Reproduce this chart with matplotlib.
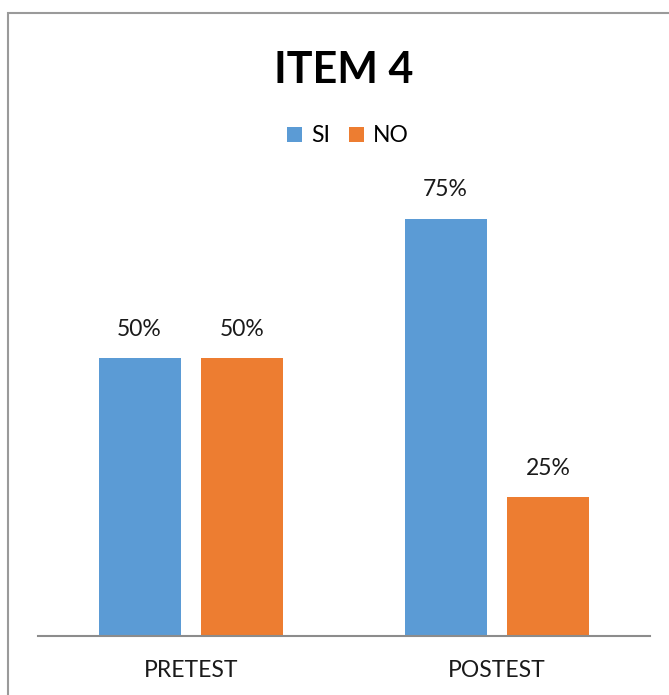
import matplotlib.pyplot as plt
from matplotlib.patches import Rectangle

plt.rcParams['font.family'] = ['Lato', 'DejaVu Sans']

categories = ["PRETEST", "POSTEST"]
series = ["SI", "NO"]
si_values = [0.50, 0.75]
no_values = [0.50, 0.25]
colors = ["#5B9BD5", "#ED7D31"]

fig = plt.figure(figsize=(6.69, 6.95), dpi=100)
ax = fig.add_axes([0.0568, 0.0849, 0.9148, 0.6403])

# chart frame (top and left edges visible)
fig.patches.append(Rectangle((8 / 669, -0.1), 1.2, (695 - 13) / 695 + 0.1,
                             transform=fig.transFigure, fill=False,
                             edgecolor="#9a9a9a", linewidth=1.5))

width = 0.268
offset = 0.168
x = range(len(categories))
for vals, name, col, sign in [(si_values, series[0], colors[0], -1),
                              (no_values, series[1], colors[1], 1)]:
    pos = [i + sign * offset for i in x]
    bars = ax.bar(pos, vals, width=width, color=col, label=name)
    for b, v in zip(bars, vals):
        ax.text(b.get_x() + b.get_width() / 2, v + 0.033, f"{v:.0%}",
                ha="center", va="bottom", fontsize=16.5, color="#1a1a1a")

ax.set_xlim(-0.5, 1.5)
ax.set_ylim(0, 0.8)
ax.set_xticks(list(x))
ax.set_xticklabels(categories, fontsize=16.5, color="#1a1a1a")
ax.tick_params(axis="x", length=0, pad=17)
ax.set_yticks([])
for s in ["top", "right", "left"]:
    ax.spines[s].set_visible(False)
ax.spines["bottom"].set_color("#8c8c8c")
ax.spines["bottom"].set_linewidth(1.5)

fig.text(344 / 669, (695 - 70) / 695, "ITEM 4", ha="center", va="center",
         fontsize=31, fontweight="bold", color="#000000")
fig.legend(loc="center", bbox_to_anchor=(348 / 669, (695 - 136) / 695), ncol=2,
           frameon=False, fontsize=16.5, handlelength=0.65, handleheight=0.65,
           handletextpad=0.4, columnspacing=0.8)

fig.savefig("out.png", dpi=100)
